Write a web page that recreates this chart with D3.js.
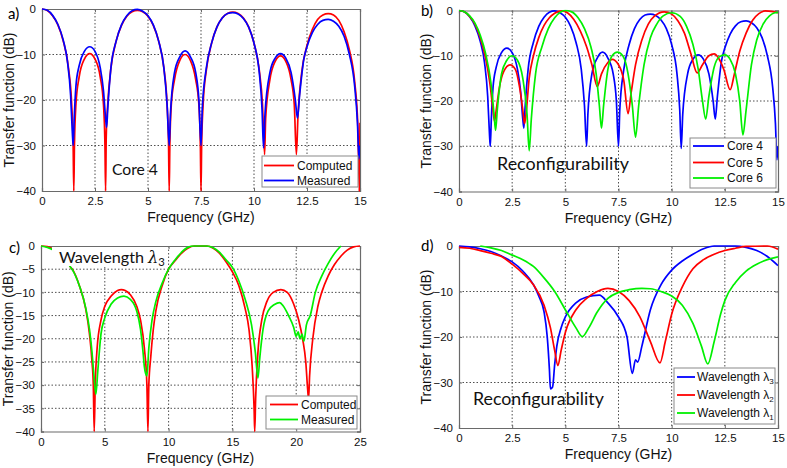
<!DOCTYPE html>
<html><head><meta charset="utf-8">
<script src="https://cdn.jsdelivr.net/npm/d3@7"></script>
<style>
html,body{margin:0;padding:0;background:#fff;}
svg{display:block;}
.tick text{font-family:"Liberation Sans",Arial,sans-serif;}
</style></head>
<body>
<svg id="chart" width="787" height="468"></svg>
<script>
// ---------- DATA ----------
const xTicksA = [0, 2.5, 5, 7.5, 10, 12.5, 15];
const yTicksA = [0, -10, -20, -30, -40];
const xTicksC = [0, 5, 10, 15, 20, 25];
const yTicksC = [0, -5, -10, -15, -20, -25, -30, -35, -40];

// Panel a) Core 4
const aComputed = [[0,0],[0.25,-0.35],[0.5,-1.5],[0.75,-3.5],[1.0,-7],[1.25,-13],[1.4,-21],[1.47,-30],[1.5,-40],[1.53,-30],[1.6,-21],[1.75,-15],[2.0,-11],[2.25,-9.8],[2.5,-11],[2.75,-15],[2.9,-21],[2.97,-30],[3.0,-40],[3.03,-28],[3.1,-21],[3.25,-13],[3.5,-7],[3.75,-3.6],[4.0,-1.6],[4.25,-0.6],[4.5,-0.3],[4.75,-0.6],[5.0,-1.6],[5.25,-3.6],[5.5,-7],[5.75,-13],[5.9,-21],[5.97,-30],[6.0,-40],[6.03,-30],[6.1,-21],[6.25,-15.5],[6.5,-11.3],[6.75,-10],[7.0,-11.3],[7.25,-15.5],[7.4,-21],[7.47,-30],[7.5,-40],[7.53,-30],[7.6,-21],[7.75,-13.5],[8,-7.5],[8.25,-4],[8.5,-2],[8.75,-1],[9.0,-0.7],[9.25,-1],[9.5,-2],[9.75,-4],[10,-7.5],[10.25,-13.5],[10.4,-21],[10.5,-32],[10.55,-24],[10.75,-15.5],[11,-11.5],[11.25,-10.3],[11.5,-11.5],[11.75,-15.5],[11.9,-21],[12.0,-32],[12.07,-24],[12.25,-14],[12.5,-8],[12.75,-4.5],[13,-2.3],[13.25,-1.3],[13.5,-1],[13.75,-1.3],[14,-2.5],[14.25,-5],[14.5,-9],[14.75,-16],[14.9,-26],[14.97,-40],[15,-25]];
const aMeasured = [[0,0],[0.25,-0.3],[0.5,-1.4],[0.75,-3.4],[1.0,-6.8],[1.2,-11.5],[1.35,-19],[1.43,-27],[1.47,-30],[1.52,-24],[1.6,-17],[1.75,-12.5],[2.0,-9.3],[2.25,-8.3],[2.5,-9.3],[2.75,-13],[2.9,-18],[3.0,-24],[3.05,-26],[3.1,-22],[3.25,-13],[3.5,-7],[3.75,-3.5],[4.0,-1.5],[4.25,-0.4],[4.5,-0.1],[4.75,-0.5],[5.0,-1.5],[5.25,-3.5],[5.5,-7],[5.75,-13],[5.9,-21],[6.0,-30],[6.06,-23],[6.25,-14],[6.5,-10.5],[6.75,-9.2],[7.0,-10.5],[7.25,-14],[7.4,-20],[7.5,-30],[7.56,-22],[7.75,-13],[8,-7.5],[8.25,-4],[8.5,-2],[8.75,-1],[9,-0.8],[9.25,-1.1],[9.5,-2.1],[9.75,-4],[10,-7.5],[10.25,-14],[10.38,-22],[10.45,-30.5],[10.52,-23],[10.75,-14],[11,-10.8],[11.25,-9.8],[11.5,-10.8],[11.75,-14],[11.95,-20],[12.05,-24],[12.15,-19],[12.35,-11],[12.5,-8.3],[12.75,-5.2],[13,-3.4],[13.25,-2.5],[13.5,-2.3],[13.75,-2.7],[14,-3.8],[14.25,-6],[14.5,-10],[14.75,-17],[14.88,-25],[14.95,-33],[15,-30]];

// Panel b) Reconfigurability (cores)
const bCore4 = aMeasured;
const bCore5 = [[0,0],[0.25,-0.3],[0.5,-1.3],[0.75,-3],[1.0,-6],[1.25,-10.5],[1.45,-16],[1.6,-22],[1.67,-24.5],[1.75,-22],[1.9,-17],[2.1,-13.5],[2.4,-12],[2.65,-13],[2.85,-17],[3.0,-22],[3.08,-25],[3.15,-23],[3.3,-15],[3.5,-10],[3.75,-6],[4.0,-3.3],[4.25,-1.6],[4.5,-0.6],[4.85,-0.1],[5.1,-0.5],[5.4,-2],[5.7,-4.5],[6.0,-8],[6.25,-12],[6.5,-16.8],[6.7,-14],[7.0,-11.5],[7.2,-10.8],[7.5,-12],[7.75,-15.5],[7.95,-22.8],[8.1,-18],[8.3,-12],[8.6,-6.5],[8.9,-3],[9.2,-1.2],[9.65,-0.3],[10,-0.8],[10.3,-2.3],[10.6,-5],[10.9,-9.5],[11.2,-13.8],[11.45,-12],[11.75,-10],[12.0,-9.6],[12.2,-10.5],[12.45,-13],[12.75,-17.5],[12.95,-14],[13.2,-9],[13.5,-5],[13.8,-2.2],[14.1,-0.7],[14.4,-0.1],[14.7,-0.2],[15,-0.5]];
const bCore6 = [[0,0],[0.25,-0.3],[0.5,-1.2],[0.75,-2.8],[1.0,-5.5],[1.25,-9.5],[1.5,-16],[1.65,-23],[1.72,-26.5],[1.8,-22],[2.0,-14],[2.25,-11],[2.5,-10],[2.75,-11],[3.0,-15],[3.2,-23],[3.3,-31],[3.4,-24],[3.6,-14],[3.9,-8],[4.2,-4],[4.5,-1.6],[4.8,-0.3],[5.0,0],[5.3,-0.3],[5.6,-1.6],[5.9,-4],[6.2,-8],[6.45,-14],[6.6,-21],[6.7,-26],[6.8,-21],[7.0,-13],[7.2,-10],[7.45,-9.2],[7.7,-10],[7.95,-14],[8.15,-21],[8.3,-28],[8.45,-21],[8.7,-12],[9,-6],[9.3,-3],[9.6,-1.2],[10.0,-0.5],[10.4,-1.3],[10.7,-3.5],[11.0,-7.5],[11.25,-13],[11.45,-20],[11.6,-24],[11.75,-19],[12.0,-12.5],[12.25,-10.2],[12.5,-9.8],[12.75,-10.8],[13.0,-14],[13.2,-20],[13.35,-27.5],[13.5,-22],[13.75,-12],[14.0,-6.5],[14.3,-3],[14.6,-1.2],[14.85,-0.5],[15,-0.4]];

// Panel c) Wavelength lambda3
const cComputed = [[0,0],[0.5,-0.15],[1,-0.7],[1.5,-1.6],[2.0,-3.0],[2.3,-4.5],[2.5,-5.2],[3.0,-8.5],[3.5,-13.5],[3.8,-19],[4.0,-25],[4.1,-30],[4.17,-40],[4.25,-30],[4.4,-22],[4.7,-16],[5.0,-13],[5.5,-10.8],[6.0,-9.6],[6.3,-9.4],[6.6,-9.6],[7.0,-10.5],[7.5,-13],[7.8,-16],[8.1,-22],[8.3,-30],[8.38,-40],[8.45,-30],[8.6,-24],[8.8,-18],[9,-14],[9.5,-8.5],[10,-5],[10.5,-3.2],[11,-1.6],[11.5,-0.5],[12,0],[12.5,0],[13,0],[13.5,-0.5],[14,-1.6],[14.5,-3.4],[15,-5.6],[15.5,-8.5],[16,-13.5],[16.3,-18],[16.55,-26],[16.7,-35],[16.75,-40],[16.82,-33],[17,-23],[17.3,-16],[17.7,-12],[18.2,-10],[18.8,-9.4],[19.3,-10],[19.8,-12.5],[20.2,-16],[20.5,-20],[20.75,-25],[20.9,-31],[20.97,-33],[21.05,-28],[21.3,-20],[21.7,-13],[22,-10],[22.5,-6.5],[23,-4],[23.5,-2.2],[24,-0.9],[24.5,-0.2],[25,0]];
const cMeasured = [[0,0],[0.5,-0.3],[1,-0.9],[1.5,-1.8],[2,-3.2],[2.3,-4.5],[2.5,-5.3],[3.0,-8.5],[3.5,-13.3],[3.8,-18],[4.0,-23],[4.15,-28],[4.3,-32],[4.45,-27],[4.7,-19],[5.0,-15.5],[5.5,-12.5],[6.0,-11.2],[6.5,-10.8],[7.0,-11.5],[7.5,-14],[7.8,-18],[8.0,-23],[8.1,-26],[8.2,-27.5],[8.3,-28],[8.45,-22],[8.7,-16],[9,-12],[9.5,-8],[10,-5],[10.5,-3],[11,-1.4],[11.5,-0.3],[12,0],[13,0],[13.5,-0.4],[14,-1.4],[14.5,-3],[15,-4.6],[15.5,-7.5],[16,-11.5],[16.5,-17],[16.8,-23],[17.0,-28.5],[17.15,-24],[17.4,-18],[17.8,-14],[18.3,-12.6],[18.7,-12.2],[19.0,-13],[19.4,-15],[19.8,-17.5],[20.0,-19.5],[20.15,-18.5],[20.3,-20],[20.45,-19],[20.6,-20.5],[20.8,-17],[21.1,-15],[21.5,-10],[22,-6.5],[22.5,-3.8],[23,-1.6],[23.5,0]];

// Panel d) Reconfigurability (wavelengths)
const dLambda3 = [[0,0],[0.5,-0.2],[1,-0.6],[1.5,-1.2],[2,-2.2],[2.5,-3.5],[3,-5.5],[3.5,-8.5],[3.75,-11],[4.0,-14.5],[4.15,-20],[4.25,-27],[4.3,-31.4],[4.4,-31],[4.5,-26],[4.6,-22],[4.8,-18],[5,-15.6],[5.5,-12.5],[6,-11.2],[6.6,-10.8],[7.0,-12.5],[7.5,-15.6],[7.9,-20],[8.15,-28],[8.3,-25],[8.4,-25.5],[8.6,-22],[9.0,-14],[9.5,-8.5],[10,-5.3],[10.5,-3.3],[11,-1.8],[11.5,-0.6],[12,0],[12.5,0],[13,0],[13.5,-0.3],[14,-1],[14.5,-2.3],[15,-4.3]];
const dLambda2 = [[0,-0.3],[0.5,-0.5],[1,-1],[1.5,-1.6],[2,-2.3],[2.5,-4],[3,-6],[3.5,-8.5],[4,-13],[4.3,-18],[4.5,-23],[4.65,-26.3],[4.8,-23],[5,-19],[5.5,-14],[6,-11.5],[6.5,-10],[7,-9.3],[7.5,-10],[8,-12],[8.5,-15.5],[9,-21],[9.45,-25.7],[9.7,-21],[10,-15],[10.5,-9],[11,-5],[11.5,-3],[12,-1.8],[12.5,-1],[13,-0.5],[13.5,-0.1],[14.5,0],[15,-0.7]];
const dLambda1 = [[1.0,0],[1.5,-0.4],[2,-1],[2.5,-2],[3,-3],[3.5,-4.5],[4,-7],[4.5,-10],[5,-14],[5.5,-18],[5.8,-19.9],[6.1,-18],[6.5,-14.5],[7,-11.5],[7.5,-10.2],[8,-9.6],[8.6,-9.3],[9,-9.4],[9.5,-10],[10,-11],[10.5,-13],[11,-17],[11.4,-22],[11.7,-25.9],[12,-21],[12.3,-15],[12.5,-12],[13,-8],[13.5,-5.5],[14,-4],[14.5,-3],[15,-2.4]];

const RED = "#ff0000", BLUE = "#0000ff", GREEN = "#00f000";

// ---------- LAYOUT ----------
const svg = d3.select("#chart");
const SANS = '"Liberation Sans", Arial, sans-serif';
const CAL = 'Lato, "Open Sans", sans-serif';

function fitText(sel, width) {
  const len = sel.node().getComputedTextLength();
  const fs = parseFloat(sel.attr("font-size"));
  sel.attr("font-size", fs * width / len);
}

function panel(cfg) {
  const {L, T, R, B} = cfg.box;
  const x = d3.scaleLinear().domain(cfg.xDomain).range([L, R]);
  const y = d3.scaleLinear().domain([-40, 0]).range([B, T]);
  const g = svg.append("g");
  const clipId = "clip" + cfg.id;
  svg.append("clipPath").attr("id", clipId).append("rect")
    .attr("x", L).attr("y", T - 1).attr("width", R - L).attr("height", B - T + 2);

  // grid
  g.append("g").selectAll("line").data(cfg.xTicks.slice(1, -1)).join("line")
    .attr("x1", d => x(d)).attr("x2", d => x(d)).attr("y1", T).attr("y2", B)
    .attr("stroke", "#222").attr("stroke-width", 0.8).attr("stroke-dasharray", "1.5,2");
  g.append("g").selectAll("line").data(cfg.yTicks.slice(1, -1)).join("line")
    .attr("y1", d => y(d)).attr("y2", d => y(d)).attr("x1", L).attr("x2", R)
    .attr("stroke", "#222").attr("stroke-width", 0.8).attr("stroke-dasharray", "1.5,2");

  // axes
  const xa = g.append("g").attr("transform", `translate(0,${B})`)
    .call(d3.axisBottom(x).tickValues(cfg.xTicks).tickSize(-3).tickPadding(6).tickFormat(d3.format("")));
  const xa2 = g.append("g").attr("transform", `translate(0,${T})`)
    .call(d3.axisTop(x).tickValues(cfg.xTicks).tickSize(-3).tickFormat(""));
  const ya = g.append("g").attr("transform", `translate(${L},0)`)
    .call(d3.axisLeft(y).tickValues(cfg.yTicks).tickSize(-3).tickPadding(6).tickFormat(d3.format("")));
  const ya2 = g.append("g").attr("transform", `translate(${R},0)`)
    .call(d3.axisRight(y).tickValues(cfg.yTicks).tickSize(-3).tickFormat(""));
  [xa, xa2, ya, ya2].forEach(a => {
    a.selectAll(".domain").attr("stroke", "#6a6a6a").attr("stroke-width", 1.2);
    a.selectAll(".tick line").attr("stroke", "#6a6a6a");
    a.selectAll(".tick text").attr("font-size", 11.5).attr("fill", "#111").attr("font-family", SANS);
  });
  xa.selectAll(".tick text").attr("dy", "0.71em");

  // series
  const line = d3.line().x(d => x(d[0])).y(d => y(d[1])).curve(d3.curveMonotoneX);
  const sg = g.append("g").attr("clip-path", `url(#${clipId})`);
  cfg.series.forEach(s => {
    sg.append("path").datum(s.data).attr("d", line)
      .attr("fill", "none").attr("stroke", s.color).attr("stroke-width", 1.7)
      .attr("stroke-linejoin", "round");
  });

  // titles
  g.append("text").attr("x", (L + R) / 2).attr("y", B + 31).attr("text-anchor", "middle")
    .attr("font-family", SANS).attr("font-size", 14).attr("fill", "#111").text("Frequency (GHz)");
  g.append("text").attr("transform", `translate(${L - 28},${(T + B) / 2}) rotate(-90)`)
    .attr("text-anchor", "middle").attr("font-family", SANS).attr("font-size", 14).attr("fill", "#111")
    .text("Transfer function (dB)");

  // panel label
  g.append("text").attr("x", cfg.label.x).attr("y", cfg.label.y)
    .attr("font-family", CAL).attr("font-size", 15).attr("fill", "#000").text(cfg.label.t);

  // annotation
  const an = cfg.note;
  if (an.bg) {
    g.append("rect").attr("x", an.bg[0]).attr("y", an.bg[1]).attr("width", an.bg[2]).attr("height", an.bg[3]).attr("fill", "#fff");
  }
  const at = g.append("text").attr("x", an.x).attr("y", an.y).attr("font-family", CAL)
    .attr("font-size", 18).attr("fill", "#111");
  at.append("tspan").text(an.t);
  if (an.lam) {
    at.append("tspan").attr("font-style", "italic").attr("font-family", '"DejaVu Serif", serif').text("λ");
    at.append("tspan").attr("font-size", "0.7em").attr("dy", "0.3em").text(an.lam);
  }
  fitText(at, an.w);

  // legend
  const lg = cfg.legend;
  g.append("rect").attr("x", lg.box[0]).attr("y", lg.box[1]).attr("width", lg.box[2]).attr("height", lg.box[3])
    .attr("fill", "#fff").attr("stroke", "#8a8a8a").attr("stroke-width", 1);
  lg.items.forEach((it, i) => {
    const yy = lg.rows[i];
    g.append("line").attr("x1", lg.x1).attr("x2", lg.x2).attr("y1", yy).attr("y2", yy)
      .attr("stroke", it.color).attr("stroke-width", 1.8);
    const tx = g.append("text").attr("x", lg.tx).attr("y", yy).attr("dy", "0.35em")
      .attr("font-family", SANS).attr("font-size", 12).attr("fill", "#111");
    tx.append("tspan").text(it.name);
    if (it.sub) {
      tx.append("tspan").text("λ");
      tx.append("tspan").attr("font-size", 8).attr("dy", "0.35em").text(it.sub);
    }
  });
}

panel({
  id: "a", box: {L: 42, T: 9, R: 360, B: 191}, xDomain: [0, 15], xTicks: xTicksA, yTicks: yTicksA,
  series: [{data: aComputed, color: RED}, {data: aMeasured, color: BLUE}],
  label: {x: 8, y: 19, t: "a)"},
  note: {t: "Core 4", x: 112, y: 175, w: 46},
  legend: {box: [262, 156, 96, 31], rows: [165.5, 180.5], x1: 264, x2: 294, tx: 297,
    items: [{name: "Computed", color: RED}, {name: "Measured", color: BLUE}]}
});
panel({
  id: "b", box: {L: 459, T: 10.5, R: 778, B: 191.5}, xDomain: [0, 15], xTicks: xTicksA, yTicks: yTicksA,
  series: [{data: bCore4, color: BLUE}, {data: bCore5, color: RED}, {data: bCore6, color: GREEN}],
  label: {x: 421, y: 16, t: "b)"},
  note: {t: "Reconfigurability", x: 497, y: 170, w: 132},
  legend: {box: [690, 138, 86, 50], rows: [146, 162.5, 178], x1: 693, x2: 724, tx: 727,
    items: [{name: "Core 4", color: BLUE}, {name: "Core 5", color: RED}, {name: "Core 6", color: GREEN}]}
});
panel({
  id: "c", box: {L: 41, T: 246, R: 360, B: 431.5}, xDomain: [0, 25], xTicks: xTicksC, yTicks: yTicksC,
  series: [{data: cComputed, color: RED}, {data: cMeasured, color: GREEN}],
  label: {x: 9, y: 253, t: "c)"},
  note: {t: "Wavelength ", lam: "3", x: 59, y: 263, w: 106, bg: [52, 247, 116, 19]},
  legend: {box: [266, 396, 91, 33], rows: [404.5, 419.5], x1: 270, x2: 298, tx: 301,
    items: [{name: "Computed", color: RED}, {name: "Measured", color: GREEN}]}
});
panel({
  id: "d", box: {L: 459, T: 246, R: 778, B: 428}, xDomain: [0, 15], xTicks: xTicksA, yTicks: yTicksA,
  series: [{data: dLambda3, color: BLUE}, {data: dLambda2, color: RED}, {data: dLambda1, color: GREEN}],
  label: {x: 421, y: 251, t: "d)"},
  note: {t: "Reconfigurability", x: 473, y: 405, w: 131},
  legend: {box: [674, 368, 101, 56], rows: [377, 395, 413], x1: 677, x2: 695, tx: 697,
    items: [{name: "Wavelength ", sub: "3", color: BLUE}, {name: "Wavelength ", sub: "2", color: RED}, {name: "Wavelength ", sub: "1", color: GREEN}]}
});
</script>
</body></html>
